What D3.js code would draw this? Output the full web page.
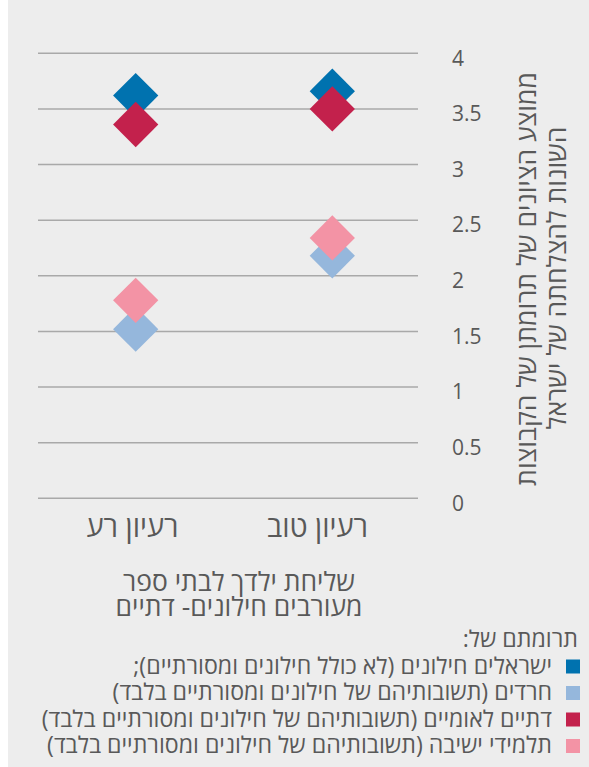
<!DOCTYPE html>
<html><head><meta charset="utf-8">
<script src="https://cdn.jsdelivr.net/npm/d3@7"></script>
<style>
html,body{margin:0;padding:0;background:#fff;}
svg{display:block;font-family:"Open Sans","DejaVu Sans",sans-serif;}
</style></head>
<body>
<script>
// ---- data ----
const categories = ["רעיון טוב", "רעיון רע"];
const seriesNames = [
  "ישראלים חילונים (לא כולל חילונים ומסורתיים);",
  "חרדים (תשובותיהם של חילונים ומסורתיים בלבד)",
  "דתיים לאומיים (תשובותיהם של חילונים ומסורתיים בלבד)",
  "תלמידי ישיבה (תשובותיהם של חילונים ומסורתיים בלבד)"
];
const seriesColors = ["#0072AF", "#95B7DC", "#C3214C", "#F393A5"];
const secularValues = [3.66, 3.62];
const haredimValues = [2.18, 1.52];
const nationalReligiousValues = [3.50, 3.36];
const yeshivaValues = [2.34, 1.78];
const yTicks = [0, 0.5, 1, 1.5, 2, 2.5, 3, 3.5, 4];
const yTitleLines = ["ממוצע הציונים של תרומתן של הקבוצות", "השונות להצלחתה של ישראל"];
const xTitleLines = ["שליחת ילדך לבתי ספר", "מעורבים חילונים- דתיים"];
const legendTitle = "תרומתם של:";

const series = [secularValues, haredimValues, nationalReligiousValues, yeshivaValues];

const W = 589, H = 767;
const svg = d3.select("body").append("svg").attr("width", W).attr("height", H);
svg.append("rect").attr("x", 8).attr("y", 0).attr("width", W - 8).attr("height", H).attr("fill", "#ededed");

const textColor = "#595959";
const y = d3.scaleLinear().domain([0, 4]).range([498.3, 53.3]);
const x = d3.scalePoint().domain(categories).range([332.3, 135.7]);
const xLabel = d3.scaleBand().domain(categories).range([410, 40]);
const gridLeft = 38, gridRight = 418;

// sets a shared font size on a selection so that its first text reaches the given width
function fitTo(sel, width) {
  sel.style("font-size", "20px");
  const w = sel.node().getComputedTextLength();
  sel.style("font-size", (20 * width / w).toFixed(2) + "px");
}

// gridlines
svg.append("g").selectAll("line").data(yTicks).join("line")
  .attr("x1", gridLeft).attr("x2", gridRight)
  .attr("y1", d => y(d)).attr("y2", d => y(d))
  .attr("stroke", "#a9a9a9").attr("stroke-width", 1.6);

// y axis labels (right side)
const yAxis = d3.axisRight(y).tickValues(yTicks).tickSize(0).tickPadding(0).tickFormat(d3.format("~g"));
const ya = svg.append("g").attr("transform", `translate(452,5)`).call(yAxis);
ya.select(".domain").remove();
ya.selectAll("text").attr("fill", textColor).style("font-size", "21px").style("font-family", '"Open Sans","DejaVu Sans",sans-serif');

// y title
const yt = svg.append("g").selectAll("text").data(yTitleLines).join("text")
  .attr("transform", (l, i) => `translate(${529 + i * 30},${279 - i * 1}) rotate(-90)`)
  .attr("text-anchor", "middle").attr("dominant-baseline", "middle")
  .attr("fill", textColor).style("direction", "rtl")
  .text(l => l);
fitTo(yt, 414);

// category labels
const cl = svg.append("g").selectAll("text").data(categories).join("text")
  .attr("x", d => xLabel(d) + xLabel.bandwidth() / 2).attr("y", 537)
  .attr("text-anchor", "middle").attr("fill", textColor)
  .style("direction", "rtl")
  .text(d => d);
fitTo(cl, 101);

// x title
const xt = svg.append("g").selectAll("text").data(xTitleLines).join("text")
  .attr("x", 239).attr("y", (l, i) => 591 + i * 25)
  .attr("text-anchor", "middle").attr("fill", textColor)
  .style("direction", "rtl").text(l => l);
fitTo(xt, 232);

// points
const sym = d3.symbol().type(d3.symbolSquare).size(32 * 32);
series.forEach((vals, si) => {
  svg.append("g").selectAll("path").data(vals).join("path")
    .attr("d", sym)
    .attr("transform", (v, i) => `translate(${x(categories[i])},${y(v)}) rotate(45)`)
    .attr("fill", seriesColors[si]);
});

// legend
const lt = svg.append("text").attr("x", 578).attr("y", 647).attr("text-anchor", "start")
  .style("direction", "rtl").attr("fill", textColor).text(legendTitle);
const lg = svg.append("g").selectAll("g").data(seriesNames).join("g")
  .attr("transform", (d, i) => `translate(0,${666.5 + i * 26.5})`);
lg.append("rect").attr("x", 566).attr("y", -7).attr("width", 14).attr("height", 14)
  .attr("fill", (d, i) => seriesColors[i]);
const ltx = lg.append("text").attr("x", 552).attr("y", 7).attr("text-anchor", "start")
  .style("direction", "rtl").attr("fill", textColor).text(d => d);
fitTo(ltx, 419);
lt.style("font-size", ltx.style("font-size"));
</script>
</body></html>
